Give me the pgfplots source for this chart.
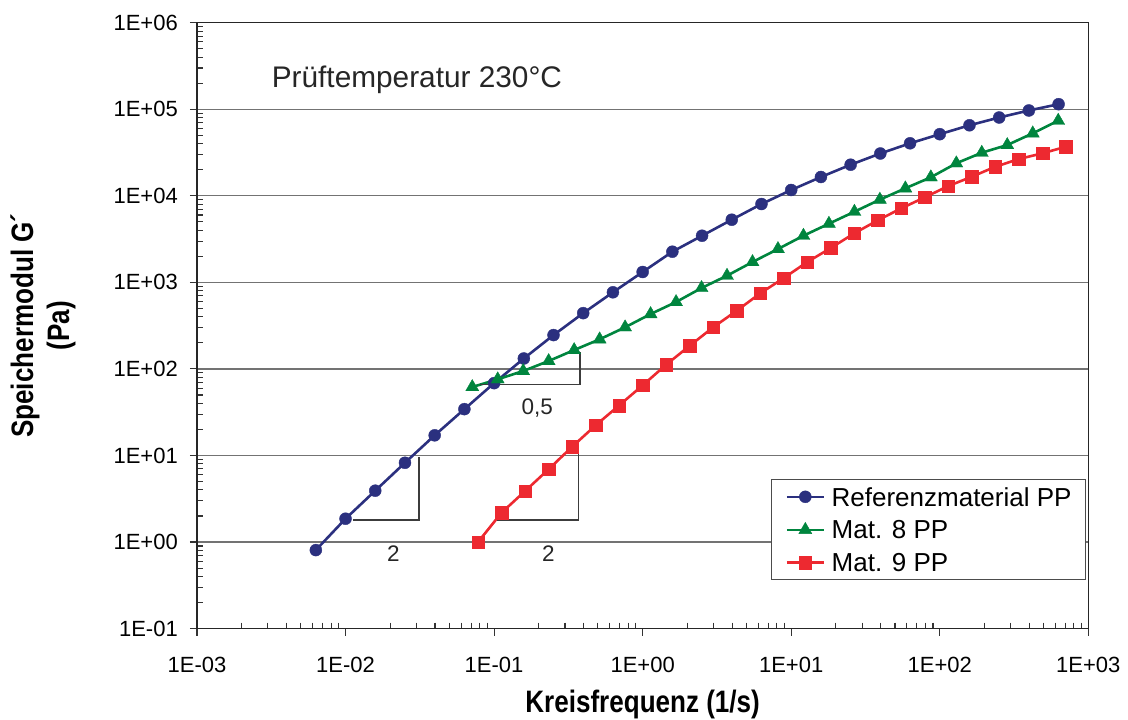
\documentclass[border=0pt]{standalone}
\usepackage{pgfplots}
\pgfplotsset{compat=1.18}
\usepackage{fontspec}
\setmainfont{Liberation Sans}
\newfontfamily\condfont[FakeStretch=0.84]{Liberation Sans}
\definecolor{cblue}{RGB}{43,48,127}
\definecolor{cgreen}{RGB}{0,133,62}
\definecolor{cred}{RGB}{237,41,48}
\definecolor{annot}{RGB}{60,60,60}
\begin{document}
\begin{tikzpicture}
\useasboundingbox (0,0) rectangle (1128pt,720pt);
\begin{axis}[
  at={(197pt,91.4pt)}, anchor=south west,
  width=891.3pt, height=605.9pt, scale only axis,
  xmode=log, ymode=log,
  xmin=1e-3, xmax=1e3, ymin=1e-1, ymax=1e6,
  xtick={1e-3,1e-2,1e-1,1,1e1,1e2,1e3},
  xticklabels={1E-03,1E-02,1E-01,1E+00,1E+01,1E+02,1E+03},
  ytick={1e-1,1,1e1,1e2,1e3,1e4,1e5,1e6},
  yticklabels={1E-01,1E+00,1E+01,1E+02,1E+03,1E+04,1E+05,1E+06},
  minor xtick={2e-3,3e-3,4e-3,5e-3,6e-3,7e-3,8e-3,9e-3,
               2e-2,3e-2,4e-2,5e-2,6e-2,7e-2,8e-2,9e-2,
               2e-1,3e-1,4e-1,5e-1,6e-1,7e-1,8e-1,9e-1,
               2,3,4,5,6,7,8,9,
               20,30,40,50,60,70,80,90,
               200,300,400,500,600,700,800,900},
  minor ytick={2e-1,3e-1,4e-1,5e-1,6e-1,7e-1,8e-1,9e-1,
               2,3,4,5,6,7,8,9,
               20,30,40,50,60,70,80,90,
               200,300,400,500,600,700,800,900,
               2e3,3e3,4e3,5e3,6e3,7e3,8e3,9e3,
               2e4,3e4,4e4,5e4,6e4,7e4,8e4,9e4,
               2e5,3e5,4e5,5e5,6e5,7e5,8e5,9e5},
  tick pos=left,
  tick align=outside,
  major tick length=7pt,
  minor tick length=-6pt,
  every tick/.style={black!80, line width=1.1pt},
  axis line style={black!85, line width=1.6pt},
  ymajorgrids,
  major grid style={black!55, line width=1.2pt},
  xticklabel style={font=\fontsize{22}{22}\selectfont, anchor=base, inner sep=0pt, yshift=-36.5pt},
  yticklabel style={font=\fontsize{22}{22}\selectfont, anchor=east, inner sep=0pt, xshift=-12pt},
  xlabel={Kreisfrequenz (1/s)},
  xlabel style={font=\condfont\bfseries\fontsize{31}{36}\selectfont, at={([yshift=-75.5pt]axis description cs:0.5,0)}, anchor=center, inner sep=0pt},
  ylabel={Speichermodul G´\\(Pa)},
  ylabel style={font=\condfont\bfseries\fontsize{31}{36}\selectfont, align=center, at={([xshift=-154pt]axis description cs:0,0.5)}, anchor=center, inner sep=0pt, rotate=0},
  legend style={at={(axis description cs:0.99742,0.2464)}, anchor=north east,
    draw=black!70, line width=0.9pt, fill=white,
    font=\fontsize{26}{26}\selectfont,
    inner xsep=14pt, inner ysep=7.5pt, row sep=14.3pt, column sep=6.7pt,
    nodes={inner sep=0pt, text depth={}}},
  legend cell align=left,
  legend image code/.code={\draw[mark repeat=2,mark phase=2,#1] plot coordinates {(0pt,0pt) (18.35pt,0pt) (36.7pt,0pt)};},
  clip=false,
]
\addplot[cblue, line width=2.6pt, mark=*, mark size=6pt, mark options={solid, fill=cblue, draw=cblue, line width=0.4pt}] coordinates {
(0.00631,0.807) (0.01,1.86) (0.01585,3.92) (0.02512,8.24) (0.03981,17.1)
(0.0631,34.3) (0.1,68.5) (0.1585,132) (0.2512,246) (0.3981,441)
(0.631,768) (1,1318) (1.585,2260) (2.512,3459) (3.981,5296)
(6.31,8040) (10,11670) (15.85,16490) (25.12,22870) (39.81,30820)
(63.1,40430) (100,51500) (158.5,65300) (251.2,80300) (398.1,96800)
(631,114400)};
\addlegendentry{Referenzmaterial PP}
\addplot[cgreen, line width=2.6pt, mark=triangle*, mark size=7.5pt, mark options={solid, fill=cgreen, draw=cgreen, line width=0.4pt}] coordinates {
(0.0713,61.8) (0.1058,75.9) (0.1570,94.6) (0.2330,123.4) (0.3459,165.3)
(0.5134,219.8) (0.7621,302.7) (1.131,430.5) (1.679,592.9) (2.492,861)
(3.698,1194) (5.490,1718) (8.147,2429) (12.09,3459) (17.95,4763)
(26.64,6550) (39.54,9040) (58.68,12210) (87.10,16370) (129.3,23760)
(191.9,31480) (284.8,38620) (422.7,52700) (627.4,73750)};
\addlegendentry{Mat. 8 PP}
\addplot[cred, line width=2.6pt, mark=square*, mark size=6.3pt, mark options={solid, fill=cred, draw=cred, line width=0.4pt}] coordinates {
(0.0780,1.0) (0.1122,2.18) (0.1616,3.88) (0.2326,6.92) (0.3350,12.6)
(0.4825,22.3) (0.6946,37.9) (1,64.6) (1.4397,112) (2.073,185)
(2.985,303) (4.297,470) (6.187,747) (8.91,1122) (12.83,1718)
(18.47,2495) (26.59,3690) (38.28,5210) (55.1,7170) (79.4,9610)
(114.3,12980) (164.5,16630) (236.8,21680) (341,26610) (491,30980)
(707,36900)};
\addlegendentry{Mat. 9 PP}
\draw[annot, line width=1.3pt] (axis cs:0.01122,1.795) -- (axis cs:0.03122,1.795) -- (axis cs:0.03122,9.68);
\draw[annot, line width=1.3pt] (axis cs:0.1041,1.795) -- (axis cs:0.3687,1.795) -- (axis cs:0.3687,13.8);
\draw[annot, line width=1.3pt] (axis cs:0.0804,66.4) -- (axis cs:0.3787,66.4) -- (axis cs:0.3787,155.6);
\node[font=\fontsize{22.5}{22.5}\selectfont, text=black!85] at (axis cs:0.02097,0.740) {2};
\node[font=\fontsize{22.5}{22.5}\selectfont, text=black!85] at (axis cs:0.2317,0.740) {2};
\node[font=\fontsize{22.5}{22.5}\selectfont, text=black!85] at (axis cs:0.1954,35.1) {0,5};
\node[anchor=base west, inner sep=0pt, font=\fontsize{29.8}{29.8}\selectfont, text=black!85] at (axis cs:0.00318,179400) {Prüftemperatur 230°C};
\end{axis}
\end{tikzpicture}
\end{document}
